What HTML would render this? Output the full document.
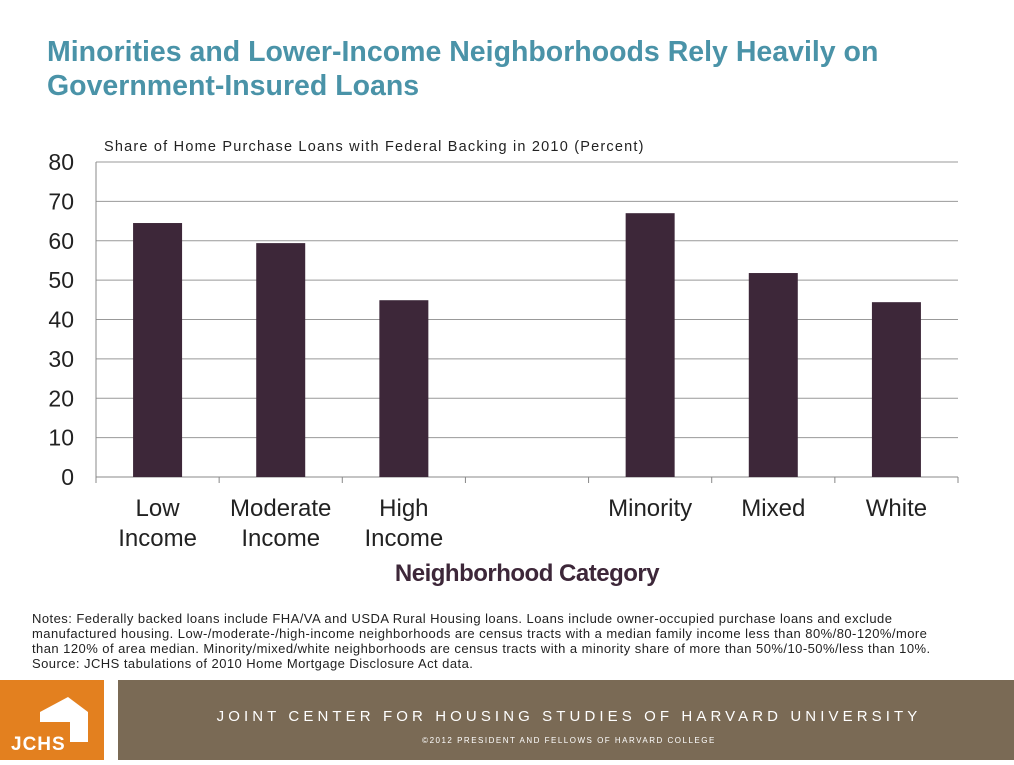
<!DOCTYPE html>
<html><head><meta charset="utf-8"><style>
body{margin:0;width:1014px;height:760px;background:#fff;position:relative;overflow:hidden;font-family:"Liberation Sans",sans-serif}
.t{position:absolute;left:47px;top:35px;font-size:28.5px;font-weight:bold;color:#4a93a8;line-height:34px;letter-spacing:0}
.notes{position:absolute;left:32px;top:611px;width:900px;font-size:13px;line-height:15px;color:#222;letter-spacing:0.45px}
</style></head><body>
<div class="t">Minorities and Lower-Income Neighborhoods Rely Heavily on<br>Government-Insured Loans</div>
<svg id="c" width="1014" height="600" style="position:absolute;left:0;top:0"></svg>
<div class="notes">Notes: Federally backed loans include FHA/VA and USDA Rural Housing loans. Loans include owner-occupied purchase loans and exclude manufactured housing. Low-/moderate-/high-income neighborhoods are census tracts with a median family income less than 80%/80-120%/more than 120% of area median. Minority/mixed/white neighborhoods are census tracts with a minority share of more than 50%/10-50%/less than 10%.<br>Source: JCHS tabulations of 2010 Home Mortgage Disclosure Act data.</div>
<div style="position:absolute;left:0;top:680px;width:104px;height:80px;background:#e3801f">
<svg width="104" height="80"><polygon points="40,32 68,17 88,32 88,62 70,62 70,42 40,42" fill="#fff"/><text x="11" y="70" fill="#fff" font-size="19" font-weight="bold" font-family="Liberation Sans" letter-spacing="1">JCHS</text></svg></div>
<div style="position:absolute;left:124px;top:680px;width:890px;height:80px;background:#7a6a55;color:#fff;text-align:center">
<div style="margin-top:28px;font-size:15px;letter-spacing:4.1px">JOINT CENTER FOR HOUSING STUDIES OF HARVARD UNIVERSITY</div>
<div style="margin-top:11px;font-size:8px;letter-spacing:1.5px">©2012 PRESIDENT AND FELLOWS OF HARVARD COLLEGE</div></div>
<div style="position:absolute;left:118px;top:680px;width:6px;height:80px;background:#7a6a55"></div>
<script>
const categories=[["Low","Income"],["Moderate","Income"],["High","Income"],[],["Minority"],["Mixed"],["White"]];
const values=[64.5,59.4,44.9,null,67.0,51.8,44.4];
const ticks=[0,10,20,30,40,50,60,70,80];
const svg=document.getElementById('c');const NS='http://www.w3.org/2000/svg';
const x0=96,x1=958,y0=477,yT=162,maxV=80;
const y=v=>y0-(v/maxV)*(y0-yT);
const sw=(x1-x0)/categories.length;
function mk(t,a,p){const e=document.createElementNS(NS,t);for(const k in a)e.setAttribute(k,a[k]);(p||svg).appendChild(e);return e;}
const gt=mk('text',{x:104,y:151,'font-size':14.5,fill:'#222','font-family':'Liberation Sans','letter-spacing':1.2});gt.textContent='Share of Home Purchase Loans with Federal Backing in 2010 (Percent)';


ticks.forEach(v=>{
 const l=mk('line',{x1:x0,x2:x1,y1:y(v),y2:y(v),stroke:v===0?'#888':'#999','stroke-width':1});
 
 
 const t=mk('text',{x:74,y:y(v)+8,'font-size':23,fill:'#222','text-anchor':'end','font-family':'Liberation Sans'});t.textContent=v;
 
 
});
mk('line',{x1:x0,x2:x0,y1:yT,y2:y0,stroke:'#888'});
for(let i=0;i<=categories.length;i++){mk('line',{x1:x0+i*sw,x2:x0+i*sw,y1:y0,y2:y0+6,stroke:'#888'});}
categories.forEach((c,i)=>{
 const cx=x0+sw*(i+0.5);
 if(values[i]!=null){
  const r=mk('rect',{x:cx-24.5,width:49,y:y(values[i]),height:y0-y(values[i]),fill:'#3d2739'});
  
  
 }
 c.forEach((s,j)=>{const t=mk('text',{x:cx,y:516+j*30,'font-size':24,fill:'#222','text-anchor':'middle','font-family':'Liberation Sans'});t.textContent=s;
  
  });
});
const xt=mk('text',{x:527,y:581,'font-size':24,'font-weight':'bold',fill:'#3d2739','text-anchor':'middle','font-family':'Liberation Sans','letter-spacing':-0.5});xt.textContent='Neighborhood Category';


</script>
</body></html>
